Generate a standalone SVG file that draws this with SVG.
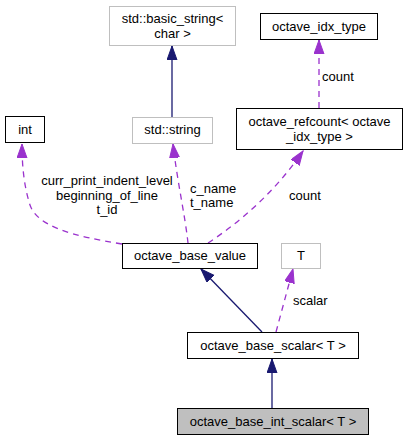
<svg xmlns="http://www.w3.org/2000/svg" width="408" height="440" viewBox="0 0 408 440">
<style>
text{font-family:"Liberation Sans",Arial,sans-serif;font-size:13px;fill:#000}
.n rect{fill:#fff;stroke:#000;stroke-width:1}
.g rect{fill:#fff;stroke:#bfbfbf;stroke-width:1}
.c text{text-anchor:middle}
.inh{fill:none;stroke:#191970;stroke-width:1.3}
.use{fill:none;stroke:#9a32cd;stroke-width:1.3;stroke-dasharray:6,5}
</style>
<defs>
<marker id="an" markerUnits="userSpaceOnUse" markerWidth="15" markerHeight="11" refX="14" refY="5" orient="auto"><path d="M0,0 L14,5 L0,10 z" fill="#191970" stroke="#191970"/></marker>
<marker id="ap" markerUnits="userSpaceOnUse" markerWidth="15" markerHeight="11" refX="14" refY="5" orient="auto"><path d="M0,0 L14,5 L0,10 z" fill="#9a32cd" stroke="#9a32cd"/></marker>
</defs>
<g id="edges">
<path class="inh" d="M172,117 L172,46" marker-end="url(#an)"/>
<path class="use" d="M319,108 L319,40" marker-end="url(#ap)"/>
<text x="322" y="81">count</text>
<path class="use" d="M122,244 C72,236 37,226 30,205 C24,186 22,166 22,144" marker-end="url(#ap)"/>
<g class="c"><text x="107" y="185">curr_print_indent_level</text><text x="107" y="199.5">beginning_of_line</text><text x="107" y="214">t_id</text></g>
<path class="use" d="M188,243 C185,215 177,180 173,144" marker-end="url(#ap)"/>
<text x="190" y="193">c_name</text><text x="190" y="207">t_name</text>
<path class="use" d="M208,243 C240,222 275,192 303,151" marker-end="url(#ap)"/>
<text x="289" y="200">count</text>
<path class="inh" d="M262,332 L201,269" marker-end="url(#an)"/>
<path class="use" d="M276,332 L293,269" marker-end="url(#ap)"/>
<text x="293" y="304.5">scalar</text>
<path class="inh" d="M272,408 L272,359" marker-end="url(#an)"/>
</g>
<g id="basic_string" class="g c"><rect x="109.5" y="6.5" width="126" height="39"/><text x="172.5" y="23">std::basic_string&lt;</text><text x="172.5" y="37.5">char &gt;</text></g>
<g id="octave_idx_type" class="n c"><rect x="260.5" y="13.5" width="117" height="26"/><text x="319" y="30.5">octave_idx_type</text></g>
<g id="int" class="n c"><rect x="5.5" y="116.5" width="39" height="26"/><text x="25" y="134">int</text></g>
<g id="std_string" class="g c"><rect x="132.5" y="117.5" width="80" height="26"/><text x="172.5" y="134">std::string</text></g>
<g id="octave_refcount" class="n c"><rect x="236.5" y="108.5" width="166" height="41"/><text x="319.5" y="126">octave_refcount&lt; octave</text><text x="319.5" y="141">_idx_type &gt;</text></g>
<g id="octave_base_value" class="n c"><rect x="122.5" y="243.5" width="135" height="25"/><text x="190" y="260">octave_base_value</text></g>
<g id="T" class="g c"><rect x="281.5" y="243.5" width="39" height="25"/><text x="301" y="260">T</text></g>
<g id="octave_base_scalar" class="n c"><rect x="187.5" y="332.5" width="171" height="26"/><text x="273" y="349.5">octave_base_scalar&lt; T &gt;</text></g>
<g id="octave_base_int_scalar" class="n c"><rect x="177.5" y="408.5" width="191" height="26" style="fill:#bfbfbf"/><text x="273" y="425.5">octave_base_int_scalar&lt; T &gt;</text></g>
</svg>
